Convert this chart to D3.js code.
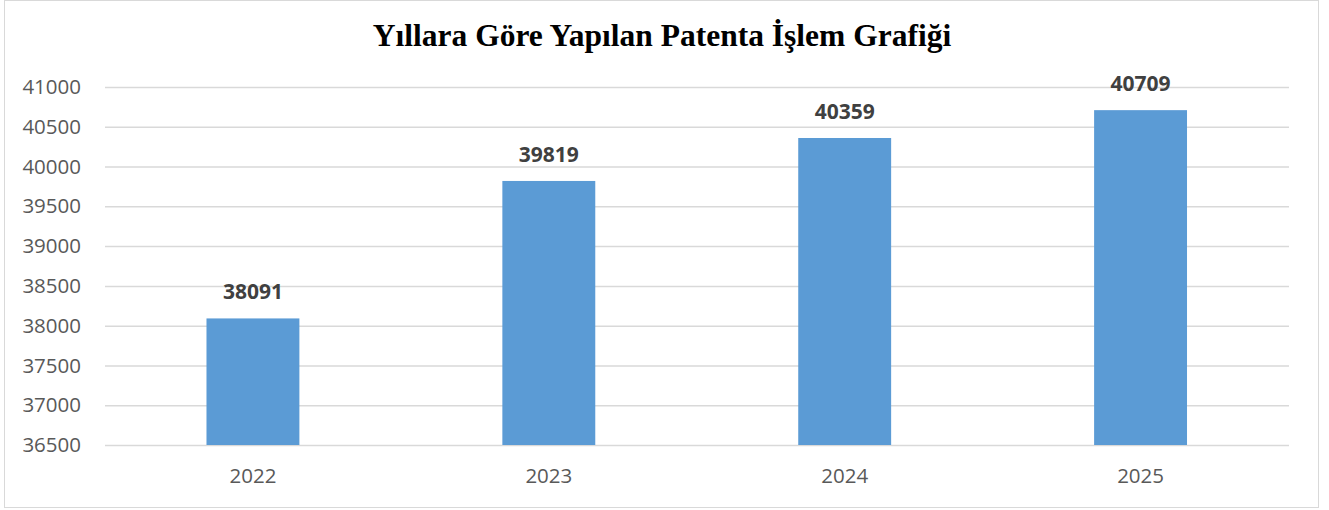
<!DOCTYPE html>
<html>
<head>
<meta charset="utf-8">
<script src="https://cdn.jsdelivr.net/npm/d3@7"></script>
<style>
  body { margin: 0; background: #fff; }
  text { font-family: "Open Sans", "Noto Sans", sans-serif; }
</style>
</head>
<body>
<svg id="chart"></svg>
<script>
const years = ["2022", "2023", "2024", "2025"];
const counts = [38091, 39819, 40359, 40709];
const yTicks = [36500, 37000, 37500, 38000, 38500, 39000, 39500, 40000, 40500, 41000];
const chartTitle = "Yıllara Göre Yapılan Patenta İşlem Grafiği";

const width = 1329, height = 510;
const margin = { top: 87, right: 40, bottom: 65, left: 105 };

const svg = d3.select("#chart").attr("width", width).attr("height", height);

// outer frame
svg.append("rect")
  .attr("x", 4.5).attr("y", 0.5)
  .attr("width", 1314).attr("height", 507)
  .attr("fill", "#fff")
  .attr("stroke", "#d9d9d9");

svg.append("text")
  .attr("x", 662)
  .attr("y", 46)
  .attr("text-anchor", "middle")
  .style("font-family", "'Liberation Serif', 'Times New Roman', serif")
  .style("font-weight", "bold")
  .style("font-size", "31.5px")
  .attr("fill", "#000")
  .text(chartTitle);

const x = d3.scaleBand()
  .domain(years)
  .range([margin.left, width - margin.right - 0.5])
  .paddingInner(0.686)
  .paddingOuter(0.343);

const y = d3.scaleLinear()
  .domain([36500, 41000])
  .range([height - margin.bottom, margin.top]);

// gridlines + y labels
const yAxis = svg.append("g")
  .attr("transform", `translate(${margin.left},0)`)
  .call(d3.axisLeft(y).tickValues(yTicks).tickSize(-(width - margin.right - margin.left)).tickPadding(24).tickFormat(d3.format("d")));
yAxis.select(".domain").remove();
yAxis.selectAll(".tick line").attr("stroke", "#d9d9d9").attr("stroke-width", 1.5);
yAxis.selectAll(".tick text")
  .attr("fill", "#595959")
  .style("font-size", "20.5px");

// bars
svg.append("g")
  .selectAll("rect")
  .data(years)
  .join("rect")
  .attr("x", (d) => x(d))
  .attr("width", x.bandwidth())
  .attr("y", (d, i) => y(counts[i]))
  .attr("height", (d, i) => y(36500) - y(counts[i]))
  .attr("fill", "#5b9bd5");

// value labels
svg.append("g")
  .selectAll("text")
  .data(years)
  .join("text")
  .attr("x", (d) => x(d) + x.bandwidth() / 2)
  .attr("y", (d, i) => y(counts[i]) - 19)
  .attr("text-anchor", "middle")
  .attr("fill", "#404040")
  .style("font-weight", "bold")
  .style("font-size", "21px")
  .text((d, i) => counts[i]);

// x labels
const xAxis = svg.append("g")
  .attr("transform", `translate(0,${height - margin.bottom})`)
  .call(d3.axisBottom(x).tickSize(0).tickPadding(23));
xAxis.select(".domain").remove();
xAxis.selectAll(".tick text")
  .attr("fill", "#595959")
  .style("font-size", "20.5px");
</script>
</body>
</html>
